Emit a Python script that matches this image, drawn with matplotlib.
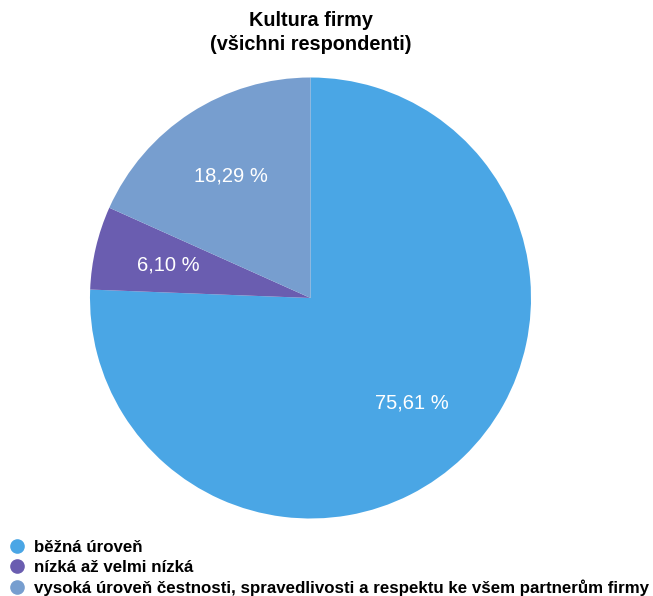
import matplotlib.pyplot as plt
from matplotlib.lines import Line2D

plt.rcParams['font.family'] = ['Liberation Sans', 'DejaVu Sans']

categories = ["běžná úroveň", "nízká až velmi nízká",
              "vysoká úroveň čestnosti, spravedlivosti a respektu ke všem partnerům firmy"]
shares = [75.61, 6.10, 18.29]
colors = ["#4AA6E5", "#6A5DB0", "#779ECF"]

W, H = 653, 596
fig = plt.figure(figsize=(W / 100, H / 100), dpi=100)

# pie axes placed in pixel terms: centre (310.5, 298), radius 220.5
cx, cy, r = 310.5, 298, 220.5
ax = fig.add_axes([(cx - r) / W, (H - cy - r) / H, 2 * r / W, 2 * r / H])
wedges, texts, autotexts = ax.pie(
    shares, colors=colors, startangle=90, counterclock=False,
    autopct=lambda p: f"{p:.2f} %".replace(".", ","), pctdistance=0.66,
    wedgeprops=dict(linewidth=0), radius=1)
for t in autotexts:
    t.set_color("white")
    t.set_fontsize(14.5)
ax.set_xlim(-1, 1)
ax.set_ylim(-1, 1)
ax.set_aspect("equal")

fig.text(cx / W, 1 - 20 / H, "Kultura firmy", ha="center", va="center",
         fontsize=14.3, fontweight="bold")
fig.text(cx / W, 1 - 45 / H, "(všichni respondenti)", ha="center", va="center",
         fontsize=14.3, fontweight="bold")

handles = [Line2D([], [], marker="o", linestyle="", markersize=9.5,
                  markerfacecolor=c, markeredgecolor=c) for c in colors]
fig.legend(handles, categories, loc="upper left", bbox_to_anchor=(0.0, 1 - 539.5 / H),
           frameon=False, handletextpad=0.0, labelspacing=0.3, borderaxespad=0,
           borderpad=0, handlelength=2.0, prop=dict(size=12.2, weight="bold"))

fig.savefig("out.png", dpi=100)
